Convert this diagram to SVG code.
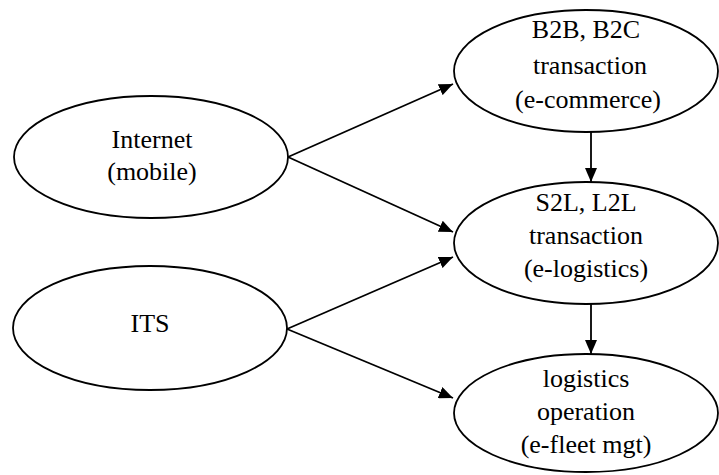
<svg xmlns="http://www.w3.org/2000/svg" width="719" height="475" viewBox="0 0 719 475">
  <style>
    .node { fill: #ffffff; stroke: #000000; stroke-width: 1.8; }
    .label { font-family: "Liberation Serif", "Times New Roman", serif; font-size: 26px; fill: #000000; text-anchor: middle; }
    .edge { stroke: #000000; stroke-width: 1.8; fill: none; marker-end: url(#arrow); }
  </style>
  <defs>
    <marker id="arrow" viewBox="0 0 14 12" refX="14" refY="6" markerWidth="14" markerHeight="12" markerUnits="userSpaceOnUse" orient="auto">
      <path d="M0,0 L14,6 L0,12 Z" fill="#000000"/>
    </marker>
  </defs>
  <rect width="719" height="475" fill="#ffffff"/>

  <g id="edges">
    <line class="edge" x1="288" y1="157" x2="453" y2="84"/>
    <line class="edge" x1="288" y1="157" x2="453" y2="232"/>
    <line class="edge" x1="287" y1="329" x2="453" y2="257"/>
    <line class="edge" x1="287" y1="329" x2="453" y2="398"/>
    <line class="edge" x1="591" y1="132" x2="591" y2="182"/>
    <line class="edge" x1="591" y1="304" x2="591" y2="354"/>
  </g>

  <g id="internet">
    <ellipse class="node" cx="151" cy="157" rx="137" ry="61"/>
    <text class="label" x="152" y="148">Internet</text>
    <text class="label" x="152" y="180">(mobile)</text>
  </g>

  <g id="its">
    <ellipse class="node" cx="150" cy="328" rx="137" ry="62"/>
    <text class="label" x="150" y="332">ITS</text>
  </g>

  <g id="b2b">
    <ellipse class="node" cx="586" cy="71" rx="132" ry="61"/>
    <text class="label" x="586" y="38">B2B, B2C</text>
    <text class="label" x="590" y="74">transaction</text>
    <text class="label" x="588" y="108">(e-commerce)</text>
  </g>

  <g id="s2l">
    <ellipse class="node" cx="586" cy="243" rx="132" ry="61"/>
    <text class="label" x="586" y="211">S2L, L2L</text>
    <text class="label" x="586" y="244">transaction</text>
    <text class="label" x="586" y="277">(e-logistics)</text>
  </g>

  <g id="logistics">
    <ellipse class="node" cx="586" cy="413" rx="132" ry="59"/>
    <text class="label" x="586" y="387">logistics</text>
    <text class="label" x="586" y="420">operation</text>
    <text class="label" x="586" y="453">(e-fleet mgt)</text>
  </g>
</svg>
